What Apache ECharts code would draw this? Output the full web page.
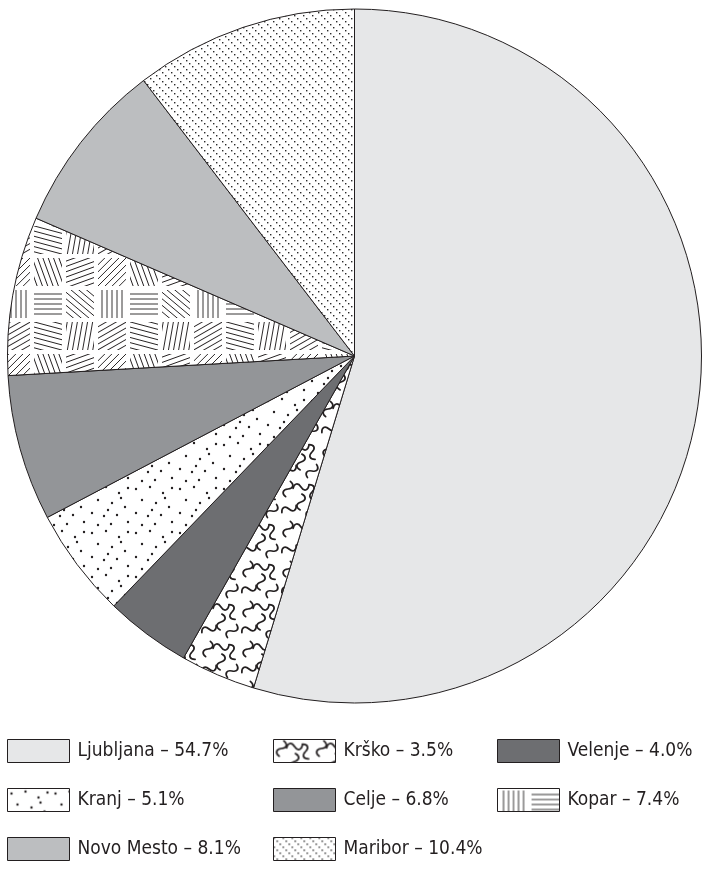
<!DOCTYPE html>
<html>
<head>
<meta charset="utf-8">
<script src="https://cdn.jsdelivr.net/npm/echarts@6/dist/echarts.min.js"></script>
<style>
html,body{margin:0;padding:0;background:#fff;}
#main{width:702px;height:871px;}
</style>
</head>
<body>
<div id="main"></div>
<script>
const categories = ['Ljubljana', 'Krško', 'Velenje', 'Kranj', 'Celje', 'Kopar', 'Novo Mesto', 'Maribor'];
const shares = [54.7, 3.5, 4.0, 5.1, 6.8, 7.4, 8.1, 10.4];
const legendCol1 = ['Ljubljana', 'Kranj', 'Novo Mesto'];
const legendCol2 = ['Krško', 'Celje', 'Maribor'];
const legendCol3 = ['Velenje', 'Kopar'];

const INK = '#231f20';

function tile(w, h, draw) {
  const c = document.createElement('canvas');
  c.width = w; c.height = h;
  const ctx = c.getContext('2d');
  ctx.fillStyle = '#ffffff';
  ctx.fillRect(0, 0, w, h);
  draw(ctx);
  return { image: c, repeat: 'repeat' };
}

// Maribor: diagonal dotted lines
const patMaribor = tile(9, 9, ctx => {
  ctx.fillStyle = '#2a2a2a';
  [0, 3, 6].forEach(k => ctx.fillRect(k, k, 1.4, 1.4));
});

// Kranj: scattered dots
const patKranj = tile(44, 44, ctx => {
  ctx.fillStyle = INK;
  const pts = [[4,5],[18,3],[31,9],[40,4],[10,16],[24,19],[37,23],[4,29],[16,32],[29,31],[40,38],[10,41],[23,40],[33,14],[20,26]];
  pts.forEach(p => { ctx.beginPath(); ctx.arc(p[0], p[1], 1.2, 0, Math.PI * 2); ctx.fill(); });
});

// Krško: wavy worms
const patKrsko = tile(40, 40, ctx => {
  ctx.strokeStyle = INK;
  ctx.lineWidth = 1.7;
  ctx.lineCap = 'round';
  const worm = (x, y, rot) => {
    ctx.save();
    ctx.translate(x, y);
    ctx.rotate(rot);
    ctx.beginPath();
    ctx.moveTo(0, -8);
    ctx.bezierCurveTo(5, -6, 5, -2, 0, 0);
    ctx.bezierCurveTo(-5, 2, -5, 6, 0, 8);
    ctx.stroke();
    ctx.restore();
  };
  worm(8, 9, 0.3);
  worm(21, 7, 1.4);
  worm(32, 12, -0.4);
  worm(9, 29, 1.1);
  worm(21, 22, 0.1);
  worm(32, 31, 0.6);
});

// Kopar: patches of parallel hatch lines
const patKopar = tile(96, 96, ctx => {
  ctx.strokeStyle = INK;
  ctx.lineWidth = 0.9;
  const patch = (x, y, w, h, ang) => {
    ctx.save();
    ctx.beginPath();
    ctx.rect(x + 2, y + 2, w - 4, h - 4);
    ctx.clip();
    ctx.translate(x + w / 2, y + h / 2);
    ctx.rotate(ang);
    for (let d = -50; d <= 50; d += 5) {
      ctx.beginPath();
      ctx.moveTo(-50, d);
      ctx.lineTo(50, d);
      ctx.stroke();
    }
    ctx.restore();
  };
  const angs = [90, 0, 40, -30, 15, 100, -45, 70, 160];
  angs.forEach((a, k) => patch((k % 3) * 32, Math.floor(k / 3) * 32, 32, 32, a * Math.PI / 180));
});

const fills = {
  'Ljubljana': '#e6e7e8',
  'Krško': patKrsko,
  'Velenje': '#6d6e71',
  'Kranj': patKranj,
  'Celje': '#939598',
  'Kopar': patKopar,
  'Novo Mesto': '#bcbec0',
  'Maribor': patMaribor
};

const pieData = categories.map((name, i) => ({
  name: name,
  value: shares[i],
  itemStyle: { color: fills[name] }
}));

const shareOf = {};
categories.forEach((n, i) => { shareOf[n] = shares[i]; });

function legendAt(left, names) {
  return {
    orient: 'vertical',
    left: left,
    top: 739,
    padding: 0,
    itemWidth: 62,
    itemHeight: 23,
    itemGap: 25,
    icon: 'rect',
    selectedMode: false,
    data: names,
    itemStyle: { borderColor: INK, borderWidth: 1 },
    formatter: n => n + ' – ' + shareOf[n].toFixed(1) + '%',
    textStyle: {
      fontFamily: "'DejaVu Sans Condensed', 'Liberation Sans Narrow', Roboto, sans-serif",
      fontSize: 19,
      color: INK,
      padding: [0, 0, 0, 3]
    }
  };
}

const chart = echarts.init(document.getElementById('main'), null, { renderer: 'canvas' });
chart.setOption({
  animation: false,
  backgroundColor: '#ffffff',
  legend: [legendAt(7, legendCol1), legendAt(273, legendCol2), legendAt(497, legendCol3)],
  series: [{
    type: 'pie',
    center: [354.5, 356],
    radius: 347,
    startAngle: 90,
    clockwise: true,
    label: { show: false },
    labelLine: { show: false },
    emphasis: { disabled: true },
    itemStyle: { borderColor: INK, borderWidth: 1 },
    data: pieData
  }]
});
</script>
</body>
</html>
